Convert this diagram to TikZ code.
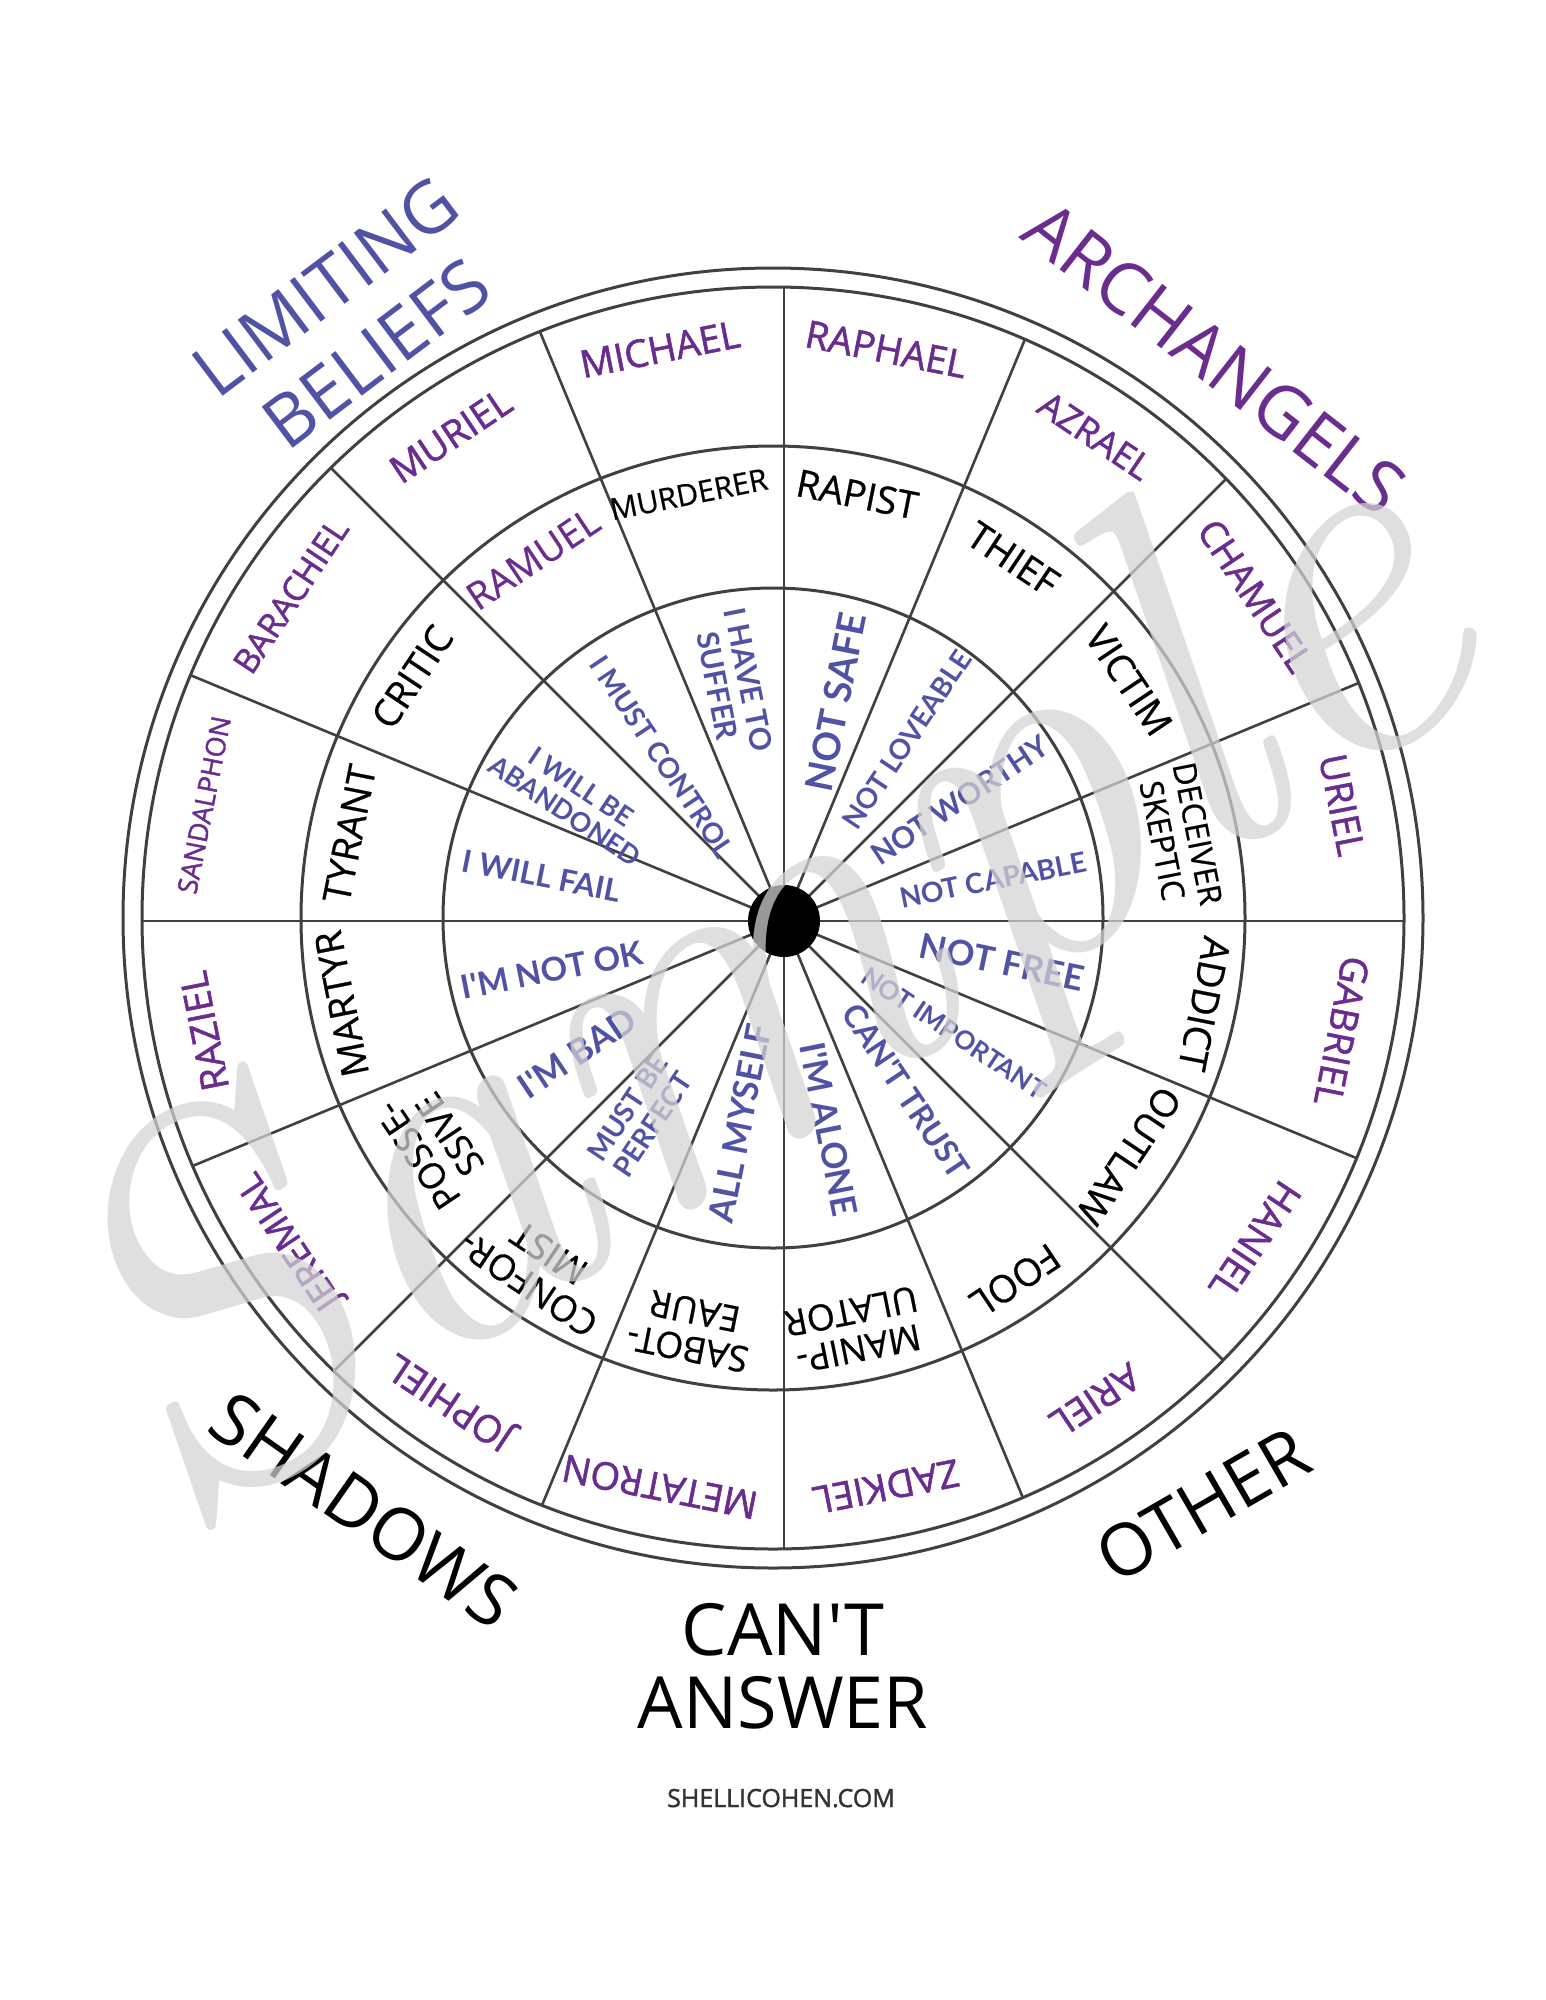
\documentclass[tikz,border=0pt]{standalone}
\usepackage{fontspec}
\newfontfamily\os{Open Sans}[Ligatures=TeXOff]
\newfontfamily\osmed{Open Sans}[Ligatures=TeXOff,FakeBold=0.6]
\newfontfamily\osemi{Open Sans}[Ligatures=TeXOff,FakeBold=1.5]
\newfontfamily\lato{Lato}[Ligatures=TeXOff]
\definecolor{lb}{HTML}{5053A5}
\definecolor{arch}{HTML}{6A2D8F}
\definecolor{ln}{HTML}{404040}
\definecolor{webc}{HTML}{333333}
\definecolor{wm}{RGB}{212,212,212}
\begin{document}
\begin{tikzpicture}[x=1pt,y=1pt,
  ringline/.style={draw=ln,line width=3pt},
  spoke/.style={draw=ln,line width=2.6pt},
  archlab/.style={text=arch,inner sep=0pt,align=center},
  shadlab/.style={inner sep=0pt,align=center},
  belieflab/.style={text=lb,inner sep=0pt,align=center},
  titlelab/.style={inner sep=0pt,align=center,font=\os\fontsize{72}{84}\selectfont}]
\useasboundingbox (0,0) rectangle (1545,-2000);
\fill[white] (0,0) rectangle (1545,-2000);
\coordinate (C) at (773,-918);
\coordinate (H) at (784,-921);
% spokes
\begin{scope}
\clip (C) circle (631pt);
\foreach \a in {0,22.5,...,337.5} \draw[spoke] (H) -- ++(\a:760pt);
\end{scope}
% rings
\draw[ringline] (C) circle (330pt);
\draw[ringline] (C) circle (472pt);
\draw[ringline] (C) circle (631pt);
\draw[ringline] (C) circle (650pt);
\fill[black] (H) circle (36pt);
% archangels (outer ring)
\foreach \a/\t/\s [count=\i] in {101.25/MICHAEL/38, 78.75/RAPHAEL/38, 56.25/AZRAEL/36, 33.75/CHAMUEL/37,
  11.25/URIEL/38, -11.25/GABRIEL/38, -33.75/HANIEL/38, -56.25/ARIEL/38, -78.75/ZADKIEL/38,
  -101.25/METATRON/38, -123.75/JOPHIEL/38, -146.25/JEREMIAL/36, -168.75/RAZIEL/38,
  168.75/SANDALPHON/27, 146.25/BARACHIEL/34, 123.75/MURIEL/38}
  \node[archlab, font=\osemi\fontsize{\s}{\s}\selectfont, rotate=\a-90] (arch\i) at ([shift={(\a:580pt)}]C) {\t};
% shadows (middle ring)
\foreach \a/\t/\s/\b/\r/\c [count=\i] in {101.25/MURDERER/30/34/432/black, 78.75/RAPIST/38/40/432/black,
  56.25/THIEF/38/40/432/black, 33.75/VICTIM/38/40/428/black, 11.25/DECEIVER\\SKEPTIC/32/36/415/black,
  -11.25/ADDICT/38/40/440/black, -33.75/OUTLAW/38/40/428/black, -56.25/FOOL/38/40/436/black,
  -78.75/MANIP-\\ULATOR/36/38/420/black, -101.25/SABOT-\\EAUR/36/38/420/black,
  -123.75/CONFOR-\\MIST/36/38/422/black, -146.25/POSSE-\\SSIVE/36/38/408/black,
  -168.75/MARTYR/38/40/440/black, 168.75/TYRANT/38/40/432/black, 146.25/CRITIC/38/40/434/black,
  123.75/RAMUEL/38/40/432/arch}
  \node[shadlab, text=\c, font=\osmed\fontsize{\s}{\b}\selectfont, rotate=\a-90] (shad\i) at ([shift={(\a:\r pt)}]C) {\t};
% limiting beliefs (inner ring)
\foreach \x/\y/\r/\s/\b/\t [count=\i] in {733/683/-78.75/30/32/I HAVE TO\\SUFFER, 836/702/78.75/38/40/NOT SAFE,
  907/740/56.25/28/30/NOT LOVEABLE, 960/800/33.75/30/32/NOT WORTHY, 993/880/11.25/28/30/NOT CAPABLE,
  1002/962/-12/35/37/NOT FREE, 954/1033/-33.75/26/28/NOT IMPORTANT, 906/1091/-56.25/32/34/CAN'T TRUST,
  829/1129/-78.75/35/37/I'M ALONE, 740/1123/78.75/35/37/ALL MYSELF, 640/1116/56.25/28/30/MUST BE\\PERFECT,
  577/1053/33.75/35/37/I'M BAD, 552/970/11.25/33/35/I'M NOT OK, 542/876/-11.25/31/33/I WILL FAIL,
  573/799/-33.75/27/29/I WILL BE\\ABANDONED, 662/757/-56.25/28/30/I MUST CONTROL}
  \node[belieflab, font=\lato\bfseries\fontsize{\s}{\b}\selectfont, rotate=\r] (bel\i) at (\x,-\y) {\t};
% titles
\node[titlelab, text=lb, rotate=37] (tlim) at (351,-320) {LIMITING\\BELIEFS};
\node[titlelab, text=arch, rotate=-38] (tarch) at (1215,-358) {ARCHANGELS};
\node[titlelab, rotate=-35] (tshad) at (364,-1510) {SHADOWS};
\node[titlelab, rotate=30] (toth) at (1203,-1505) {OTHER};
\node[titlelab, anchor=base] (tcant) at (783,-1655) {CAN'T};
\node[titlelab, anchor=base] (tans) at (783,-1728) {ANSWER};
\node[inner sep=0pt, anchor=base, text=webc, font=\osemi\fontsize{25}{25}\selectfont] (web) at (781,-1807) {SHELLICOHEN.COM};
% watermark
\node[text=wm, opacity=0.725, rotate=33, inner sep=0pt, font=\normalfont\itshape\fontsize{520}{520}\selectfont] (wmark) at (765,-1000) {Sample};
\end{tikzpicture}
\end{document}
